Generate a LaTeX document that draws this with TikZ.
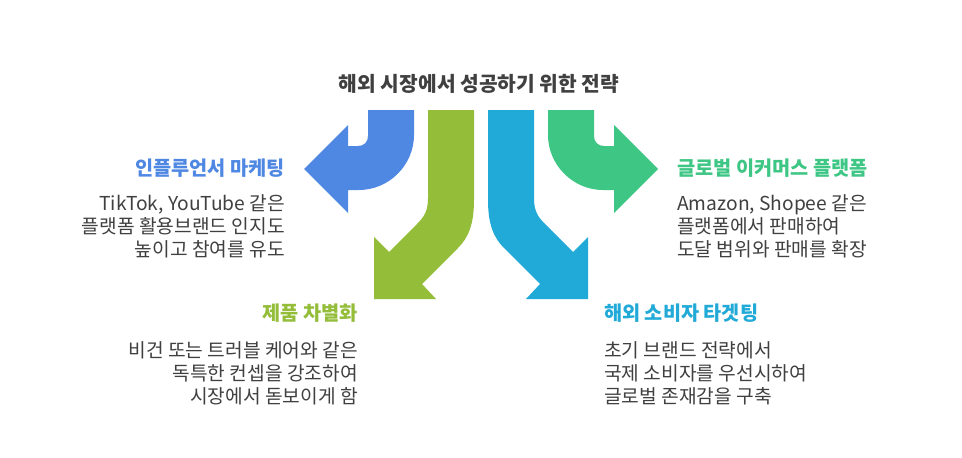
\documentclass[tikz,border=0pt]{standalone}
\usepackage{fontspec}
\setmainfont{Noto Sans CJK KR}
\definecolor{cblue}{HTML}{4F88E3}
\definecolor{colive}{HTML}{94BD3A}
\definecolor{ccyan}{HTML}{21AAD8}
\definecolor{cgreen}{HTML}{3EC685}
\definecolor{ctext}{HTML}{404040}
\begin{document}
\begin{tikzpicture}[x=1pt,y=-1pt,
  head/.style={font=\fontsize{19.7}{21}\selectfont\bfseries, inner sep=0},
  body/.style={font=\fontsize{19.2}{23.3}\selectfont, text=ctext, inner sep=0}]
\useasboundingbox (0,0) rectangle (962,458);
\fill[white] (0,0) rectangle (962,458);
\fill[cblue] (368,110)--(414,110)--(414,135) .. controls (414,165) and (389,190) .. (359,190) -- (348,190)--(348,213)--(304,169)--(348,125)--(348,146)--(358,146) .. controls (364,146) and (368,142) .. (368,136) -- cycle;
\fill[cgreen] (594,110)--(548,110)--(548,135) .. controls (548,165) and (573,190) .. (603,190) -- (614,190)--(614,213)--(658,169)--(614,125)--(614,146)--(604,146) .. controls (598,146) and (594,142) .. (594,136) -- cycle;
\fill[colive] (428,110)--(474,110)--(474,200) .. controls (474,225) and (468,238) .. (458,248) -- (422,284) -- (436,299) -- (374,299) -- (374,237) -- (389,252) -- (417,224) .. controls (425,216) and (428,210) .. (428,198) -- cycle;
\fill[ccyan] (534,110)--(488,110)--(488,200) .. controls (488,225) and (494,238) .. (504,248) -- (540,284) -- (526,299) -- (588,299) -- (588,237) -- (573,252) -- (545,224) .. controls (537,216) and (534,210) .. (534,198) -- cycle;
\node[head, text=ctext, font=\fontsize{20.3}{22}\selectfont\bfseries] (title) at (479,84) {해외 시장에서 성공하기 위한 전략};
\node[head, text=cblue, anchor=east] (h1) at (285,168) {인플루언서 마케팅};
\node[body, anchor=north east, align=right] (b1) at (285,194) {TikTok, YouTube 같은\\플랫폼 활용브랜드 인지도\\높이고 참여를 유도};
\node[head, text=colive, anchor=east] (h2) at (358,313) {제품 차별화};
\node[body, anchor=north east, align=right] (b2) at (358,341) {비건 또는 트러블 케어와 같은\\독특한 컨셉을 강조하여\\시장에서 돋보이게 함};
\node[head, text=cgreen, anchor=west] (h3) at (677,168) {글로벌 이커머스 플랫폼};
\node[body, anchor=north west, align=left] (b3) at (677,194) {Amazon, Shopee 같은\\플랫폼에서 판매하여\\도달 범위와 판매를 확장};
\node[head, text=ccyan, anchor=west] (h4) at (604,313) {해외 소비자 타겟팅};
\node[body, anchor=north west, align=left] (b4) at (604,341) {초기 브랜드 전략에서\\국제 소비자를 우선시하여\\글로벌 존재감을 구축};
\end{tikzpicture}
\end{document}
